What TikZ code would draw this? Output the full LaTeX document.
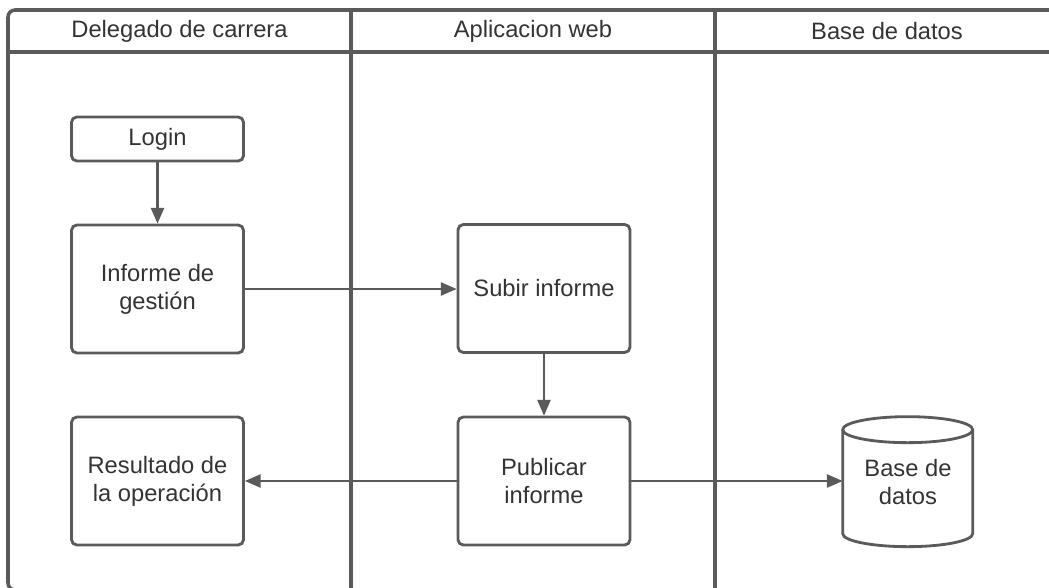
\documentclass[tikz,border=0pt]{standalone}
\usepackage{fontspec}
\setmainfont{Liberation Sans}
\usepackage{tikz}
\usetikzlibrary{arrows.meta,positioning}
\definecolor{lngray}{HTML}{5A5A5A}
\definecolor{txtgray}{HTML}{333333}

\begin{document}
\begin{tikzpicture}[x=0.02cm, y=-0.02cm,
    every node/.style={text=txtgray, font=\fontsize{13.5}{15.8}\selectfont, align=center},
    lane/.style={draw=lngray, line width=2pt},
    task/.style={draw=lngray, line width=1.6pt, rounded corners=3pt, inner sep=0pt,
      minimum width=3.44cm, minimum height=2.56cm},
    dbline/.style={draw=lngray, line width=1.6pt},
    flow/.style={draw=lngray, line width=1.2pt, -{Triangle[length=9pt,width=7.5pt]}}]
    \useasboundingbox (0,0) rectangle (1049,588);
    \clip (0,0) rectangle (1049,588);

    \draw[lane, rounded corners=4pt] (8,10) rectangle (1062,590);
    \draw[lane] (8,52) -- (1062,52);
    \draw[lane] (351,10) -- (351,590);
    \draw[lane] (715,10) -- (715,590);

    \node (hdel) at (179.5,31) {Delegado de carrera};
    \node (happ) at (533,31) {Aplicacion web};
    \node (hbd) at (887,31) {Base de datos};

    \node[task, minimum height=0.88cm] (login) at (157.5,139) {Login};
    \node[task] (informe) at (157.5,289) {Informe de\\gestión};
    \node[task] (subir) at (544,288.5) {Subir informe};
    \node[task] (publicar) at (544,481) {Publicar\\informe};
    \node[task] (resultado) at (157.5,481) {Resultado de\\la operación};

    \node[inner sep=0pt, minimum width=2.6cm, minimum height=2.6cm] (db) at (908,482) {Base de\\datos};
    \draw[dbline] (db.north west) ++(0,13) -- ++(0,104)
      arc[start angle=180, end angle=0, x radius=65, y radius=13] -- ++(0,-104)
      arc[start angle=0, end angle=-180, x radius=65, y radius=13] -- cycle;
    \draw[dbline] (db.north west) ++(0,13)
      arc[start angle=180, end angle=0, x radius=65, y radius=13];

    \draw[flow] (login) -- (informe);
    \draw[flow] (informe.east) -- (informe.east -| subir.west);
    \draw[flow] (subir) -- (publicar);
    \draw[flow] (publicar) -- (resultado);
    \draw[flow] (publicar.east) -- (publicar.east -| db.west);
  \end{tikzpicture}
\end{document}
